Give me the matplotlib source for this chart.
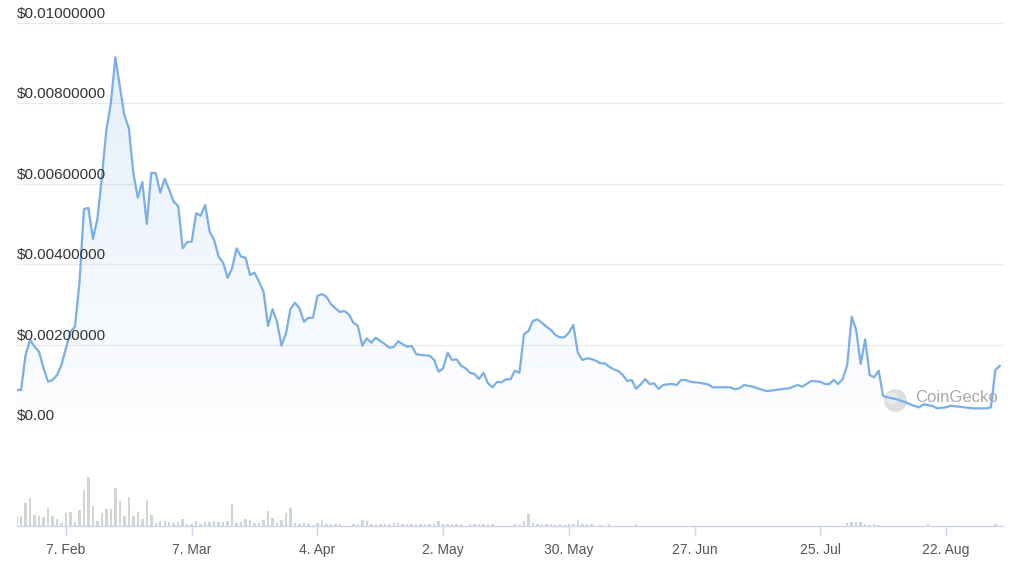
import numpy as np
import pandas as pd
import matplotlib
matplotlib.use("Agg")
import matplotlib.pyplot as plt
import matplotlib.dates as mdates
import matplotlib.transforms as mtransforms

plt.rcParams['font.family'] = ['Liberation Sans', 'DejaVu Sans']

# ---- data ----
start = pd.Timestamp("2022-01-27")

price_day = list(range(153)) + [154, 155, 159, 160, 161, 162, 164, 165, 167, 168,
                                170, 172, 174, 175, 177, 179, 180, 181, 182, 183,
                                184, 185, 186, 187, 188, 189, 190, 191, 192, 193,
                                194, 195, 196, 198, 199, 200, 201, 202, 204, 205,
                                207, 208, 210, 211, 213, 216, 217, 218, 219]
price_usd = [
    0.000871, 0.000871, 0.001741, 0.002114, 0.001948, 0.001823, 0.001418, 0.001077, 0.001119, 0.001244,
    0.001493, 0.001915, 0.002321, 0.002445, 0.003532, 0.005373, 0.005398, 0.004627, 0.005124, 0.006177,
    0.007338, 0.008010, 0.009147, 0.008416, 0.007712, 0.007388, 0.006269, 0.005654, 0.006045, 0.005000,
    0.006276, 0.006261, 0.005779, 0.006127, 0.005846, 0.005555, 0.005448, 0.004396, 0.004552, 0.004560,
    0.005266, 0.005207, 0.005473, 0.004808, 0.004602, 0.004187, 0.004037, 0.003664, 0.003898, 0.004396,
    0.004187, 0.004162, 0.003731, 0.003789, 0.003565, 0.003316, 0.002463, 0.002878, 0.002570, 0.001973,
    0.002281, 0.002886, 0.003042, 0.002903, 0.002570, 0.002669, 0.002669, 0.003209, 0.003259, 0.003192,
    0.003010, 0.002903, 0.002811, 0.002836, 0.002754, 0.002545, 0.002470, 0.001973, 0.002157, 0.002047,
    0.002172, 0.002090, 0.002015, 0.001923, 0.001940, 0.002082, 0.002008, 0.001948, 0.001965, 0.001766,
    0.001741, 0.001734, 0.001724, 0.001617, 0.001326, 0.001410, 0.001799, 0.001617, 0.001634, 0.001475,
    0.001410, 0.001301, 0.001269, 0.001144, 0.001301, 0.001037, 0.000938, 0.001070, 0.001062, 0.001137,
    0.001137, 0.001351, 0.001301, 0.002256, 0.002338, 0.002587, 0.002629, 0.002545, 0.002445, 0.002363,
    0.002239, 0.002182, 0.002182, 0.002296, 0.002488, 0.001799, 0.001617, 0.001659, 0.001642, 0.001600,
    0.001535, 0.001535, 0.001450, 0.001386, 0.001343, 0.001244, 0.001095, 0.001119, 0.000903, 0.001012,
    0.001144, 0.001020, 0.001037, 0.000896, 0.000995, 0.001012, 0.001020, 0.000995, 0.001119, 0.001119,
    0.001077, 0.001065, 0.001052,
    0.001012, 0.000938, 0.000938, 0.000888, 0.000913, 0.000995, 0.000953, 0.000913, 0.000846, 0.000853,
    0.000888, 0.000913, 0.000995, 0.000953, 0.001095, 0.001077, 0.001020, 0.001020, 0.001119, 0.001020,
    0.001144, 0.001493, 0.002694, 0.002363, 0.001517, 0.002132, 0.001244, 0.001187, 0.001351, 0.000721,
    0.000689, 0.000664, 0.000639, 0.000565, 0.000515, 0.000473, 0.000440, 0.000515, 0.000473, 0.000415,
    0.000440, 0.000480, 0.000455, 0.000440, 0.000415, 0.000415, 0.000440, 0.001368, 0.001475]

vol_day = list(range(129)) + [130, 132, 138, 185, 186, 187, 188, 189, 190, 191, 192, 203, 218]
volume = [
    10, 10, 23.3, 28.3, 11.3, 9.7, 8.7, 18.3, 10, 7.3,
    3, 12.7, 13.7, 4, 15.7, 35.7, 49, 19.7, 5, 12.7,
    17.3, 17.3, 37.7, 24.7, 10, 29.3, 10, 13.7, 7.3, 25.7,
    11.3, 3, 5, 5, 4, 3, 4, 7.3, 2.3, 1.7,
    5, 1.7, 4, 4, 5, 4, 4, 5, 22.3, 3,
    4, 7.3, 6.3, 3, 3, 6.3, 14.7, 8.3, 3, 6.3,
    13.3, 18.3, 3, 1.7, 3, 1.7, 0.5, 3, 6, 2.3,
    1.7, 2.3, 1.7, 0.4, 0.4, 1.7, 2.3, 6.3, 4.7, 1.7,
    1.7, 1.7, 1.7, 2.3, 3, 3, 2.3, 1.7, 1.7, 1.7,
    2.3, 1.7, 2.3, 1.7, 4.7, 2.3, 1.7, 1.7, 1.7, 1.7,
    0.4, 1.7, 1.7, 1.7, 2.3, 1.7, 1.7, 0.4, 0.4, 0.4,
    0.4, 1.7, 0.5, 4.7, 12.3, 3, 2.3, 2.3, 2.3, 1.7,
    0.5, 1.7, 0.5, 2.3, 1.7, 5.7, 2.3, 1.7, 1.7,
    1.2, 1.5, 1.5, 3.3, 4, 4, 4, 2.3, 1.3, 2.3, 1.3, 1.5, 1.5]

tick_dates = ["2022-02-07", "2022-03-07", "2022-04-04", "2022-05-02",
              "2022-05-30", "2022-06-27", "2022-07-25", "2022-08-22"]
tick_labels = ["7. Feb", "7. Mar", "4. Apr", "2. May",
               "30. May", "27. Jun", "25. Jul", "22. Aug"]
y_ticks = [0, 0.002, 0.004, 0.006, 0.008, 0.01]
y_labels = ["$0.00", "$0.00200000", "$0.00400000", "$0.00600000",
            "$0.00800000", "$0.01000000"]

price_dates = start + pd.to_timedelta(price_day, unit="D")
vol_dates = start + pd.to_timedelta(vol_day, unit="D")
x_min = start
x_max = start + pd.Timedelta(days=219.7)

line_color = "#7aaee8"

fig = plt.figure(figsize=(10.24, 5.61), dpi=100)
ax = fig.add_axes([0.0162, 0.2424, 0.9633, 0.7166])
axv = fig.add_axes([0.0162, 0.0624, 0.9633, 0.1782])

# price panel
for v in y_ticks:
    ax.axhline(v, color="#ebebeb", lw=0.8, zorder=0)
ax.plot(price_dates, price_usd, color=line_color, lw=1.6, zorder=3,
        solid_joinstyle="round")

# gradient area under the line (bluish at top, fading to white)
poly = ax.fill_between(price_dates, price_usd, 0, color="none", lw=0)
x0, x1 = mdates.date2num(x_min), mdates.date2num(x_max)
grad = np.zeros((256, 1, 4))
grad[:, :, :3] = matplotlib.colors.to_rgb(line_color)
grad[:, 0, 3] = np.linspace(0.2, 0.02, 256)
im = ax.imshow(grad, extent=[x0, x1, 0, max(price_usd)], aspect="auto",
               origin="upper", zorder=1)
im.set_clip_path(poly.get_paths()[0], transform=ax.transData)

ax.set_xlim(x_min, x_max)
ax.set_ylim(0, 0.01)
ax.axis("off")

off = mtransforms.offset_copy(ax.get_yaxis_transform(), fig=fig, x=0, y=2, units="dots")
for v, lab in zip(y_ticks, y_labels):
    ax.text(0, v, lab, transform=off, ha="left", va="bottom",
            fontsize=11, color="#333333", zorder=5)

# watermark
ax.scatter([0.8905], [0.0622], s=270, color="#d6d6d6", alpha=0.8,
           transform=ax.transAxes, zorder=2, lw=0)
ax.scatter([0.8875], [0.0672], s=80, color="#ededed", alpha=0.9,
           transform=ax.transAxes, zorder=2, lw=0)
ax.text(0.9108, 0.0672, "CoinGecko", transform=ax.transAxes, ha="left",
        va="center", fontsize=12, color="#a8a8a8", zorder=2)

# volume panel
axv.bar(vol_dates, volume, width=0.55, color="#d3d4d8", zorder=2)
axv.set_xlim(x_min, x_max)
axv.set_ylim(0, 100)
for s in ["top", "left", "right"]:
    axv.spines[s].set_visible(False)
axv.spines["bottom"].set_color("#ccd6eb")
axv.spines["bottom"].set_linewidth(1)
axv.set_yticks([])
axv.set_xticks(pd.to_datetime(tick_dates))
axv.set_xticklabels(tick_labels)
axv.tick_params(axis="x", length=7, width=1, color="#ccd6eb",
                labelsize=10, labelcolor="#555555", pad=5)
axv.patch.set_alpha(0)

fig.savefig("out.png", dpi=100)
